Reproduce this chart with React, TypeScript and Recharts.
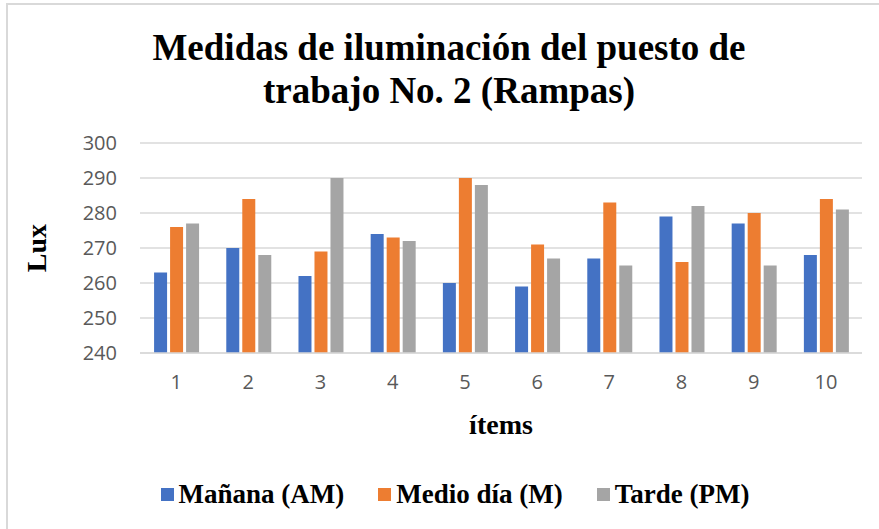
import React from 'react';
import { BarChart, Bar, XAxis, YAxis, CartesianGrid } from 'recharts';

const categories = ['1', '2', '3', '4', '5', '6', '7', '8', '9', '10'];
const manana = [263, 270, 262, 274, 260, 259, 267, 279, 277, 268];
const medioDia = [276, 284, 269, 273, 290, 271, 283, 266, 280, 284];
const tarde = [277, 268, 290, 272, 288, 267, 265, 282, 265, 281];
const yTicks = [240, 250, 260, 270, 280, 290, 300];

const seriesNames = ['Mañana (AM)', 'Medio día (M)', 'Tarde (PM)'];
const seriesKeys = ['manana', 'medioDia', 'tarde'];
const colors = ['#4472C4', '#ED7D31', '#A5A5A5'];

const data = categories.map((name, i) => ({
  name,
  manana: manana[i],
  medioDia: medioDia[i],
  tarde: tarde[i],
}));

const serif = '"Liberation Serif", "Times New Roman", serif';
const sans = '"Open Sans", "Liberation Sans", sans-serif';

export default function App() {
  return (
    <div style={{ position: 'relative', width: 879, height: 529, overflow: 'hidden', background: '#fff' }}>
      <style>{'body{margin:0}'}</style>
      {/* chart frame, only top/left edges visible in the original crop */}
      <div style={{ position: 'absolute', left: 6, top: 3, width: 920, height: 600, border: '2px solid #d9d9d9' }} />

      <div style={{
        position: 'absolute', left: 0, top: 26, width: 898, textAlign: 'center',
        fontFamily: serif, fontWeight: 'bold', fontSize: 37, lineHeight: '43px', color: '#000',
      }}>
        Medidas de iluminación del puesto de<br />trabajo No. 2 (Rampas)
      </div>

      <div style={{ position: 'absolute', left: 0, top: 0 }}>
        <BarChart
          width={879}
          height={529}
          data={data}
          margin={{ top: 143, right: 17, bottom: 146, left: 80 }}
          barCategoryGap="19.5%"
          barGap={3}
          style={{ fontFamily: sans }}
        >
          <CartesianGrid vertical={false} stroke="#d9d9d9" strokeWidth={1.5} />
          <XAxis
            dataKey="name"
            height={30}
            axisLine={{ stroke: '#d9d9d9', strokeWidth: 1.5 }}
            tickLine={false}
            tickSize={0}
            tickMargin={22}
            tick={{ fill: '#595959', fontSize: 20 }}
          />
          <YAxis
            width={60}
            domain={[240, 300]}
            ticks={yTicks}
            axisLine={false}
            tickLine={false}
            tickSize={0}
            tickMargin={23}
            tick={{ fill: '#595959', fontSize: 20 }}
          />
          {seriesKeys.map((k, i) => (
            <Bar key={k} dataKey={k} name={seriesNames[i]} fill={colors[i]} isAnimationActive={false} />
          ))}
        </BarChart>
      </div>

      <div style={{
        position: 'absolute', left: 37, top: 248, transform: 'translate(-50%, -50%) rotate(-90deg)',
        fontFamily: serif, fontWeight: 'bold', fontSize: 28, color: '#000', whiteSpace: 'nowrap',
      }}>
        Lux
      </div>

      <div style={{
        position: 'absolute', left: 501, top: 425, transform: 'translate(-50%, -50%)',
        fontFamily: serif, fontWeight: 'bold', fontSize: 28, color: '#000', whiteSpace: 'nowrap',
      }}>
        ítems
      </div>

      <div style={{
        position: 'absolute', left: 0, top: 479, width: 910, display: 'flex', justifyContent: 'center',
        gap: 34, fontFamily: serif, fontWeight: 'bold', fontSize: 27, color: '#000',
      }}>
        {seriesNames.map((n, i) => (
          <div key={n} style={{ display: 'flex', alignItems: 'center', gap: 5, lineHeight: '30px' }}>
            <span style={{ display: 'inline-block', width: 13, height: 13, background: colors[i] }} />
            <span>{n}</span>
          </div>
        ))}
      </div>
    </div>
  );
}
